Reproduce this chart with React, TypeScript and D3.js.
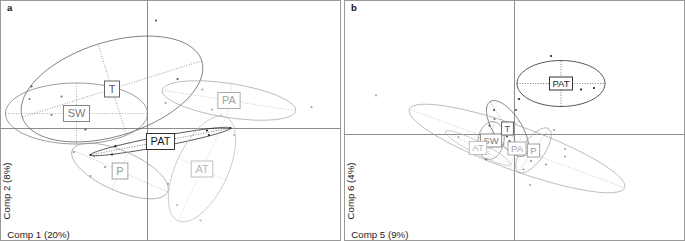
import React from "react";
import * as d3 from "d3";

// group order shared by both panels
const groups = ["T", "SW", "PA", "PAT", "P", "AT"];

// panel a (Comp 1 / Comp 2): class centroids and ellipse shape
const aCx = [-0.71, -1.42, 1.63, 0.26, -0.55, 1.09];
const aCy = [0.79, 0.3, 0.56, -0.26, -0.85, -0.81];
const aSemiMajor = [1.88, 1.42, 1.35, 1.42, 1.04, 1.14];
const aSemiMinor = [0.94, 0.61, 0.34, 0.1, 0.4, 0.52];
const aAngle = [17.4, 0, -8.8, 10.8, -23.7, 65];
// panel a samples
const aPtX = [0.17, -2.32, 0.6, -1.24, -2.36, -1.72, -1.92, 1.1, 1.29, 3.28, 0.36, -0.64, -0.71, -1.14, 1.19, 1.23, 1.66, -1.47, -1.07, -0.85, -1.14, 0.41, 1.73, 1.47, 0.59, 1.06];
const aPtY = [2.16, 0.84, 0.99, -0.02, 0.59, 0.64, 0.27, 0.78, 0.38, 0.43, 0.51, -0.35, -0.52, -0.53, -0.04, -0.13, 0.01, -0.47, -0.56, -0.77, -0.95, -1.11, -0.13, 0.26, -1.53, -1.84];
const aPtGroup = ["T", "T", "T", "T", "SW", "SW", "SW", "PA", "PA", "PA", "PA", "PAT", "PAT", "PAT", "PAT", "PAT", "PAT", "P", "P", "P", "P", "P", "AT", "AT", "AT", "AT"];

// panel b (Comp 5 / Comp 6)
const bCx = [-0.14, -0.47, 0.05, 0.93, 0.38, -0.73];
const bCy = [0.12, -0.12, -0.28, 1.02, -0.32, -0.27];
const bSemiMajor = [0.64, 0.38, 2.29, 0.88, 0.53, 0.73];
const bSemiMinor = [0.28, 0.26, 0.44, 0.46, 0.22, 0.12];
const bAngle = [-57, 80, -20, 0, 55, -27];
const bPtX = [0.73, 1.33, 1.59, 0.09, -0.41, 0.03, -0.1, -0.15, -0.5, -0.4, -0.57, 0.79, 1.01, 1.01, 0.31, -2.77, 0.33, 0.18, 0.63, -1.12];
const bPtY = [1.57, 0.9, 0.93, 0.71, 0.49, 0.49, -0.13, -0.04, 0.18, 0.31, -0.5, 0.09, -0.29, -0.44, -1.01, 0.78, -0.53, -0.7, -0.6, -0.05];
const bPtGroup = ["PAT", "PAT", "PAT", "PAT", "T", "T", "T", "T", "T", "SW", "SW", "PA", "PA", "PA", "PA", "PA", "P", "P", "P", "AT"];

const xTitles = ["Comp 1 (20%)", "Comp 5 (9%)"];
const yTitles = ["Comp 2 (8%)", "Comp 6 (4%)"];
const panelLetters = ["a", "b"];

const colors: Record<string, string> = {
  T: "#555555",
  SW: "#7a7a7a",
  PA: "#a4a4a4",
  PAT: "#1e1e1e",
  P: "#9a9a9a",
  AT: "#b9b9b9",
};

const FONT = "'Liberation Sans', Arial, sans-serif";

let ctx: CanvasRenderingContext2D | null = null;
function textWidth(s: string, size: number) {
  if (!ctx) ctx = document.createElement("canvas").getContext("2d");
  if (!ctx) return s.length * size * 0.6;
  ctx.font = `${size}px 'Liberation Sans'`;
  return ctx.measureText(s).width;
}

function Panel(props: any) {
  const { left, right, top, bottom, ox, oy, unit, cx, cy, sa, sb, ang, px, py, pg, xTitle, yTitle, letter, labelSize, labelPad, labelH } = props;

  const x = d3.scaleLinear().domain([(left - ox) / unit, (right - ox) / unit]).range([left, right]);
  const y = d3.scaleLinear().domain([(oy - top) / unit, (oy - bottom) / unit]).range([top, bottom]);

  const line = d3.line<[number, number]>().x(d => x(d[0])).y(d => y(d[1])).curve(d3.curveLinearClosed);

  const ellipses = groups.map((g, i) => {
    const th = (ang[i] * Math.PI) / 180;
    const c = Math.cos(th), s = Math.sin(th);
    const pts: [number, number][] = d3.range(0, 120).map(k => {
      const t = (k / 120) * 2 * Math.PI;
      const u = sa[i] * Math.cos(t), v = sb[i] * Math.sin(t);
      return [cx[i] + u * c - v * s, cy[i] + u * s + v * c];
    });
    return (
      <g key={g} stroke={colors[g]} fill="none">
        <path d={line(pts) || ""} strokeWidth={0.75} />
        <line x1={x(cx[i] - sa[i] * c)} y1={y(cy[i] - sa[i] * s)} x2={x(cx[i] + sa[i] * c)} y2={y(cy[i] + sa[i] * s)} strokeWidth={0.6} strokeDasharray="1 1.6" />
        <line x1={x(cx[i] + sb[i] * s)} y1={y(cy[i] - sb[i] * c)} x2={x(cx[i] - sb[i] * s)} y2={y(cy[i] + sb[i] * c)} strokeWidth={0.6} strokeDasharray="1 1.6" />
      </g>
    );
  });

  const points = px.map((v: number, i: number) => (
    <circle key={i} cx={x(v)} cy={y(py[i])} r={1.1} fill={colors[pg[i]]} />
  ));

  const labels = groups.map((g, i) => {
    const w = textWidth(g, labelSize) + 2 * labelPad;
    const lx = x(cx[i]), ly = y(cy[i]);
    return (
      <g key={g}>
        <rect x={lx - w / 2} y={ly - labelH / 2} width={w} height={labelH} fill="#fff" stroke={colors[g]} strokeWidth={0.9} />
        <text x={lx} y={ly + labelSize * 0.36} textAnchor="middle" fontSize={labelSize} fill={colors[g]} fontFamily={FONT}>{g}</text>
      </g>
    );
  });

  return (
    <g>
      <rect x={left} y={top} width={right - left} height={bottom - top} fill="#fff" stroke="#9a9a9a" strokeWidth={1} />
      <line x1={left} x2={right} y1={y(0)} y2={y(0)} stroke="#8c8c8c" strokeWidth={1} />
      <line x1={x(0)} x2={x(0)} y1={top} y2={bottom} stroke="#8c8c8c" strokeWidth={1} />
      {ellipses}
      {points}
      {labels}
      <text x={left + 6.5} y={top + 10} fontSize={9.5} fontWeight="bold" fontFamily={FONT} fill="#111">{letter}</text>
      <text x={left + 6.8} y={bottom - 3} fontSize={9.7} fontFamily={FONT} fill="#222">{xTitle}</text>
      <text transform={`translate(${left + 9.8},${bottom - 21}) rotate(-90)`} fontSize={9.7} fontFamily={FONT} fill="#222">{yTitle}</text>
    </g>
  );
}

export default function App() {
  return (
    <svg width={685} height={241} style={{ position: "absolute", left: 0, top: 0, display: "block" }}>
      <rect width={685} height={241} fill="#fff" />
      <Panel left={0.5} right={340.5} top={0.5} bottom={240.5} ox={147.5} oy={128.5} unit={50}
        cx={aCx} cy={aCy} sa={aSemiMajor} sb={aSemiMinor} ang={aAngle} px={aPtX} py={aPtY} pg={aPtGroup}
        xTitle={xTitles[0]} yTitle={yTitles[0]} letter={panelLetters[0]} labelSize={11} labelPad={4.2} labelH={16} />
      <Panel left={344.5} right={684.5} top={0.5} bottom={240.5} ox={514.5} oy={134.5} unit={50}
        cx={bCx} cy={bCy} sa={bSemiMajor} sb={bSemiMinor} ang={bAngle} px={bPtX} py={bPtY} pg={bPtGroup}
        xTitle={xTitles[1]} yTitle={yTitles[1]} letter={panelLetters[1]} labelSize={9.5} labelPad={3} labelH={13} />
    </svg>
  );
}
